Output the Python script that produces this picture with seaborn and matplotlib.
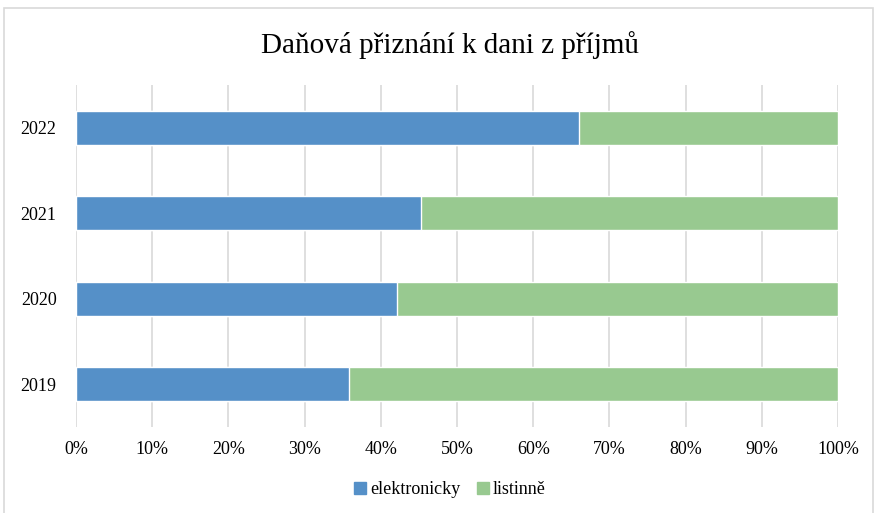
import pandas as pd
import numpy as np
import matplotlib
matplotlib.use("Agg")
import matplotlib.pyplot as plt
import seaborn as sns
from matplotlib.patches import Rectangle
from matplotlib.ticker import PercentFormatter

years = ["2022", "2021", "2020", "2019"]
elektronicky = [66.0, 45.3, 42.1, 35.8]
listinne = [100 - v for v in elektronicky]

df = pd.DataFrame({"rok": years, "elektronicky": elektronicky, "listinne": listinne})
df["celkem"] = df["elektronicky"] + df["listinne"]

sns.set_style("white")
plt.rcParams["font.family"] = ["Liberation Serif", "DejaVu Serif"]
plt.rcParams["text.color"] = "black"
plt.rcParams["xtick.color"] = "black"
plt.rcParams["ytick.color"] = "black"

blue = "#5590c8"
green = "#98c990"

fig = plt.figure(figsize=(8.77, 5.13), dpi=100)
ax = fig.add_axes([0.0867, 0.168, 0.8688, 0.666])

# green = whole bar, blue drawn on top
sns.barplot(data=df, x="celkem", y="rok", color=green, width=0.4, ax=ax, zorder=3, saturation=1)
sns.barplot(data=df, x="elektronicky", y="rok", color=blue, width=0.4, ax=ax, zorder=4, saturation=1)

ax.set_xlim(0, 100)
ax.set_ylim(3.5, -0.5)
ax.xaxis.set_major_locator(plt.MultipleLocator(10))
ax.xaxis.set_major_formatter(PercentFormatter(decimals=0))
ax.grid(axis="x", color="#d9d9d9", linewidth=1.2, zorder=0)
ax.set_axisbelow(True)
for s in ax.spines.values():
    s.set_visible(False)
ax.tick_params(axis="both", length=0, labelsize=13, pad=10, labelcolor="black")
ax.tick_params(axis="y", pad=14)
ax.set_xlabel("")
ax.set_ylabel("")

fig.text(0.513, 0.912, "Daňová přiznání k dani z příjmů", ha="center", va="center",
         fontsize=21, color="black")

handles = [plt.Line2D([], [], marker="s", linestyle="", color=blue, markersize=8),
           plt.Line2D([], [], marker="s", linestyle="", color=green, markersize=8)]
fig.legend(handles, ["elektronicky", "listinně"], loc="center", bbox_to_anchor=(0.513, 0.045),
           ncol=2, frameon=False, fontsize=13, handlelength=0.7, handletextpad=0.2,
           columnspacing=0.9, labelcolor="black")

fig.patches.append(Rectangle((0.005, -0.01), 0.99, 0.995, transform=fig.transFigure,
                             fill=False, edgecolor="#d9d9d9", linewidth=1.2))

fig.savefig("out.png", dpi=100)
